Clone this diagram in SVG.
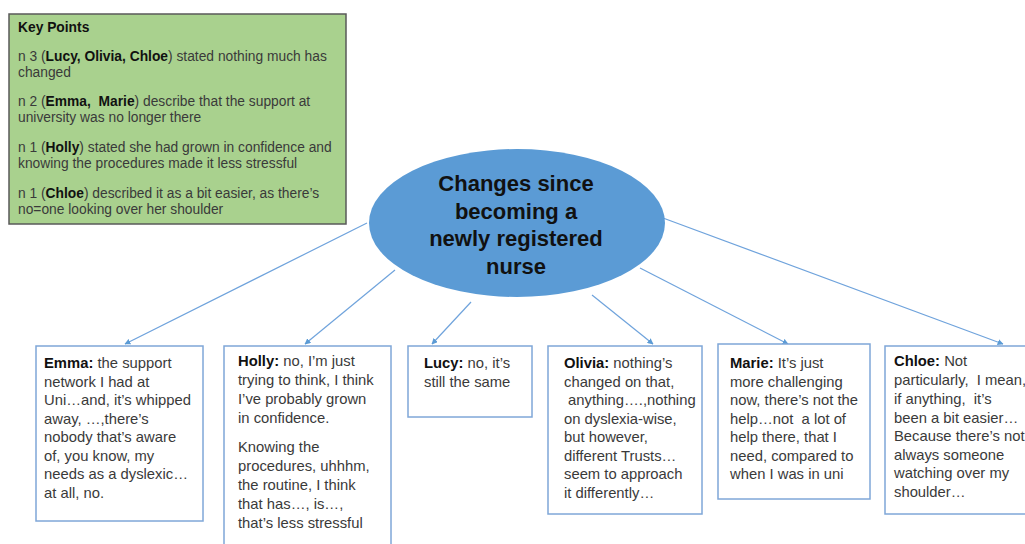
<svg xmlns="http://www.w3.org/2000/svg" width="1025" height="544" viewBox="0 0 1025 544">
<style>
.bg{fill:#ffffff}
.kp{fill:#a9d18e;stroke:#595959;stroke-width:1.5}
.kt{font-family:"Liberation Sans",Arial,sans-serif;font-size:13.8px;fill:#3a3a3a;white-space:pre}
.b{font-weight:bold;fill:#111}
.ell{fill:#5b9bd5}
.title{font-family:"Liberation Sans",Arial,sans-serif;font-size:22px;font-weight:bold;fill:#111;text-anchor:middle}
.box{fill:#ffffff;stroke:#7fa7d8;stroke-width:1.5}
.bt{font-family:"Liberation Sans",Arial,sans-serif;font-size:14.8px;fill:#3a3a3a;white-space:pre}
.conn{stroke:#6fa3dc;stroke-width:1.2;fill:none;marker-end:url(#arr)}
</style>
<defs>
<marker id="arr" viewBox="0 0 10 10" refX="9" refY="5" markerWidth="6" markerHeight="6" orient="auto" markerUnits="userSpaceOnUse">
<path d="M0,0 L10,5 L0,10 z" fill="#5b9bd5"/>
</marker>
</defs>
<rect class="bg" x="0" y="0" width="1025" height="544"/>

<g id="connectors">
<line class="conn" x1="367" y1="223" x2="125" y2="344"/>
<line class="conn" x1="395" y1="270" x2="305" y2="344"/>
<line class="conn" x1="471" y1="302" x2="432" y2="344"/>
<line class="conn" x1="592" y1="295" x2="653" y2="344"/>
<line class="conn" x1="640" y1="268" x2="788" y2="344"/>
<line class="conn" x1="663" y1="218" x2="1003" y2="344"/>
</g>

<g id="key-points">
<rect class="kp" x="9" y="14" width="337" height="210"/>
<text class="kt" x="18" y="32"><tspan class="b">Key Points</tspan></text>
<text class="kt" x="18" y="61">n 3 (<tspan class="b">Lucy, Olivia, Chloe</tspan>) stated nothing much has</text>
<text class="kt" x="18" y="77">changed</text>
<text class="kt" x="18" y="106">n 2 (<tspan class="b">Emma,  Marie</tspan>) describe that the support at</text>
<text class="kt" x="18" y="122">university was no longer there</text>
<text class="kt" x="18" y="152">n 1 (<tspan class="b">Holly</tspan>) stated she had grown in confidence and</text>
<text class="kt" x="18" y="168">knowing the procedures made it less stressful</text>
<text class="kt" x="18" y="198">n 1 (<tspan class="b">Chloe</tspan>) described it as a bit easier, as there’s</text>
<text class="kt" x="18" y="214">no=one looking over her shoulder</text>
</g>

<g id="center">
<ellipse class="ell" cx="517" cy="223" rx="148" ry="74"/>
<text class="title" x="516" y="191">Changes since</text>
<text class="title" x="516" y="219">becoming a</text>
<text class="title" x="516" y="246">newly registered</text>
<text class="title" x="516" y="274">nurse</text>
</g>

<g id="emma">
<rect class="box" x="36" y="346" width="167" height="175"/>
<text class="bt" x="44" y="368"><tspan class="b">Emma:</tspan> the support</text>
<text class="bt" x="44" y="386.5">network I had at</text>
<text class="bt" x="44" y="405">Uni…and, it’s whipped</text>
<text class="bt" x="44" y="423.5">away, …,there’s</text>
<text class="bt" x="44" y="442">nobody that’s aware</text>
<text class="bt" x="44" y="460.5">of, you know, my</text>
<text class="bt" x="44" y="479">needs as a dyslexic…</text>
<text class="bt" x="44" y="497.5">at all, no.</text>
</g>

<g id="holly">
<rect class="box" x="224" y="346" width="167" height="210"/>
<text class="bt" x="238" y="366"><tspan class="b">Holly:</tspan> no, I’m just</text>
<text class="bt" x="238" y="385">trying to think, I think</text>
<text class="bt" x="238" y="404">I’ve probably grown</text>
<text class="bt" x="238" y="423">in confidence.</text>
<text class="bt" x="238" y="452">Knowing the</text>
<text class="bt" x="238" y="471">procedures, uhhhm,</text>
<text class="bt" x="238" y="490">the routine, I think</text>
<text class="bt" x="238" y="509">that has…, is…,</text>
<text class="bt" x="238" y="528">that’s less stressful</text>
</g>

<g id="lucy">
<rect class="box" x="408" y="346" width="124" height="71"/>
<text class="bt" x="424" y="368"><tspan class="b">Lucy:</tspan> no, it’s</text>
<text class="bt" x="424" y="387">still the same</text>
</g>

<g id="olivia">
<rect class="box" x="548" y="346" width="154" height="168"/>
<text class="bt" x="564" y="368"><tspan class="b">Olivia:</tspan> nothing’s</text>
<text class="bt" x="564" y="386.5">changed on that,</text>
<text class="bt" x="564" y="405"> anything….,nothing</text>
<text class="bt" x="564" y="423.5">on dyslexia-wise,</text>
<text class="bt" x="564" y="442">but however,</text>
<text class="bt" x="564" y="460.5">different Trusts…</text>
<text class="bt" x="564" y="479">seem to approach</text>
<text class="bt" x="564" y="497.5">it differently…</text>
</g>

<g id="marie">
<rect class="box" x="718" y="344" width="152" height="155"/>
<text class="bt" x="730" y="368"><tspan class="b">Marie:</tspan> It’s just</text>
<text class="bt" x="730" y="386.5">more challenging</text>
<text class="bt" x="730" y="405">now, there’s not the</text>
<text class="bt" x="730" y="423.5">help…not  a lot of</text>
<text class="bt" x="730" y="442">help there, that I</text>
<text class="bt" x="730" y="460.5">need, compared to</text>
<text class="bt" x="730" y="479">when I was in uni</text>
</g>

<g id="chloe">
<rect class="box" x="885" y="346" width="150" height="168"/>
<text class="bt" x="894" y="366"><tspan class="b">Chloe:</tspan> Not</text>
<text class="bt" x="894" y="385">particularly,  I mean,</text>
<text class="bt" x="894" y="404">if anything,  it’s</text>
<text class="bt" x="894" y="423">been a bit easier…</text>
<text class="bt" x="894" y="441">Because there’s not</text>
<text class="bt" x="894" y="459.5">always someone</text>
<text class="bt" x="894" y="478">watching over my</text>
<text class="bt" x="894" y="497">shoulder…</text>
</g>
</svg>
